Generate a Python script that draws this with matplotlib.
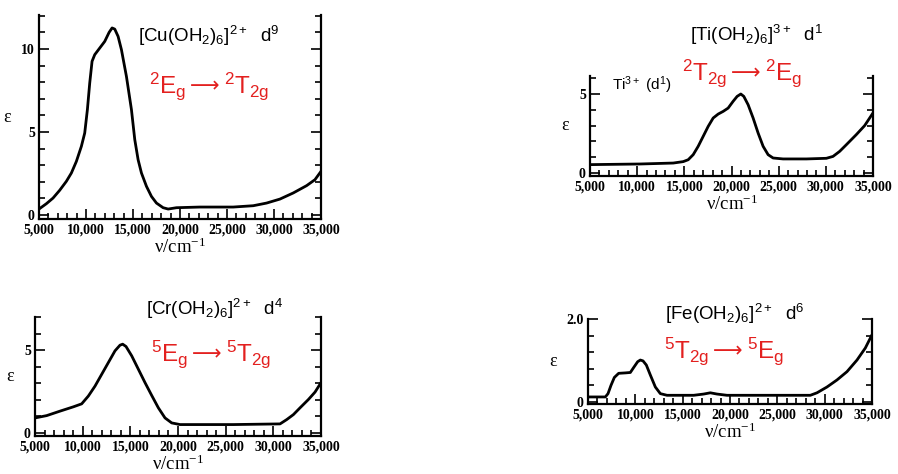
import matplotlib
matplotlib.use("Agg")
import matplotlib.pyplot as plt
from matplotlib.ticker import MultipleLocator, FixedLocator, FuncFormatter

plt.rcParams['mathtext.default'] = 'regular'

# ---- data (wavenumber in cm^-1, molar absorptivity) ----
cu_x = [5000, 5781, 6491, 7201, 7911, 8444, 8976, 9509, 9864, 10148, 10396, 10645, 10929,
        11461, 11994, 12455, 12775, 13059, 13414, 13770, 14301, 14834, 15189, 15544, 15899,
        16431, 16964, 17496, 18206, 18739, 19626, 22111, 25661, 27791, 29211, 30631, 32051,
        33471, 34359, 35000]
cu_y = [0.36, 0.68, 1.02, 1.49, 2.03, 2.53, 3.23, 4.14, 4.94, 6.35, 7.95, 9.26, 9.66,
        10.06, 10.46, 11.00, 11.27, 11.20, 10.76, 9.96, 8.35, 6.35, 4.54, 3.33, 2.53,
        1.73, 1.12, 0.72, 0.44, 0.36, 0.44, 0.48, 0.48, 0.56, 0.72, 0.96, 1.33,
        1.77, 2.13, 2.63]

ti_x = [5000, 10294, 13823, 14881, 15411, 15940, 16469, 16999, 17528, 18057, 18587, 19116,
        19645, 20175, 20598, 20986, 21304, 21763, 22292, 22821, 23351, 23880, 24410, 25468,
        27939, 30056, 30762, 31468, 32173, 33232, 34114, 35000]
ti_y = [0.53, 0.57, 0.63, 0.72, 0.84, 1.16, 1.69, 2.32, 2.95, 3.48, 3.73, 3.90,
        4.11, 4.54, 4.85, 5.00, 4.85, 4.32, 3.48, 2.53, 1.69, 1.16, 0.95, 0.89,
        0.89, 0.93, 1.05, 1.37, 1.79, 2.43, 3.00, 3.80]

cr_x = [5000, 6224, 7623, 9022, 9896, 10595, 11295, 11994, 12693, 13393, 13917, 14197,
        14547, 15141, 15841, 16540, 17240, 17939, 18638, 19338, 20212, 25807, 30703, 31402,
        32102, 32801, 33675, 34375, 35000]
cr_y = [0.91, 1.05, 1.32, 1.58, 1.76, 2.23, 2.83, 3.54, 4.25, 4.96, 5.30, 5.36,
        5.22, 4.66, 3.85, 3.04, 2.27, 1.52, 0.91, 0.61, 0.51, 0.51, 0.55, 0.81,
        1.11, 1.52, 2.02, 2.47, 3.04]

fe_x = [5000, 6831, 7113, 7429, 7782, 8239, 8944, 9472, 9824, 10246, 10528, 10810, 11162,
        11584, 12113, 12641, 13345, 16162, 17218, 17922, 18626, 19683, 28485, 29189, 30245,
        31302, 32358, 33414, 34295, 35000]
fe_y = [0.12, 0.12, 0.20, 0.40, 0.59, 0.69, 0.70, 0.71, 0.83, 0.97, 1.01, 0.99, 0.89,
        0.65, 0.36, 0.20, 0.16, 0.16, 0.19, 0.22, 0.19, 0.16, 0.16, 0.22, 0.36,
        0.53, 0.73, 1.01, 1.30, 1.62]

x_ticks = [5000, 10000, 15000, 20000, 25000, 30000, 35000]

complex_labels = [r'[Cu(OH$_2$)$_6$]$^{2+}$  d$^9$',
                  r'[Ti(OH$_2$)$_6$]$^{3+}$  d$^1$',
                  r'[Cr(OH$_2$)$_6$]$^{2+}$  d$^4$',
                  r'[Fe(OH$_2$)$_6$]$^{2+}$  d$^6$']
transition_from = [r'$^2$E$_g$', r'$^2$T$_{2g}$', r'$^5$E$_g$', r'$^5$T$_{2g}$']
transition_to = [r'$^2$T$_{2g}$', r'$^2$E$_g$', r'$^5$T$_{2g}$', r'$^5$E$_g$']
ARROW = '⟶'

W, H = 898, 474
fig = plt.figure(figsize=(W / 100, H / 100), dpi=100)
fig.patch.set_facecolor('white')

serif = ['Liberation Serif', 'DejaVu Serif']
sans = ['Liberation Sans', 'DejaVu Sans']
RED = '#e3201f'


def px_axes(left, right, top, bottom):
    return fig.add_axes([left / W, 1 - bottom / H, (right - left) / W, (bottom - top) / H])


def style(ax, ylim, ymajor, yminor):
    ax.set_xlim(5000, 35000)
    ax.set_ylim(*ylim)
    ax.spines['top'].set_visible(False)
    for s in ['left', 'right', 'bottom']:
        ax.spines[s].set_linewidth(1.6)
    ax.xaxis.set_major_locator(FixedLocator(x_ticks))
    ax.xaxis.set_minor_locator(MultipleLocator(1000))
    ax.xaxis.set_major_formatter(FuncFormatter(lambda v, p: f'{int(v):,}'))
    ax.yaxis.set_major_locator(FixedLocator(ymajor))
    ax.yaxis.set_minor_locator(MultipleLocator(yminor))
    ax.yaxis.set_major_formatter(FuncFormatter(lambda v, p: f'{v:g}' if v != 2.0 else '2.0'))
    ax.tick_params(axis='both', which='both', direction='in', width=1.2,
                   right=True, top=False, labelright=False)
    ax.tick_params(axis='both', which='major', length=7, pad=3)
    ax.tick_params(axis='both', which='minor', length=4)
    for lab in ax.get_xticklabels() + ax.get_yticklabels():
        lab.set_family(serif)
        lab.set_fontweight('bold')
        lab.set_fontsize(10)
    ax.set_ylabel('ε', family=serif, fontsize=13, rotation=0, labelpad=10, va='center')
    ax.set_xlabel(r'ν/cm$^{-1}$', family=serif, fontsize=13.5, labelpad=1)


def draw(ax, x, y):
    ax.plot(x, y, color='black', lw=2.0, solid_joinstyle='round', solid_capstyle='round')


# Panel 1: Cu
ax1 = px_axes(39, 321, 15, 219)
draw(ax1, cu_x, cu_y)
style(ax1, (-0.24, 12.05), [0, 5, 10], 1)

# Panel 2: Ti
ax2 = px_axes(590, 873, 76, 176)
draw(ax2, ti_x, ti_y)
style(ax2, (-0.19, 6.14), [0, 5], 1)

# Panel 3: Cr
ax3 = px_axes(35, 321, 317, 436)
draw(ax3, cr_x, cr_y)
style(ax3, (-0.18, 7.0), [0, 5], 1)

# Panel 4: Fe
ax4 = px_axes(588, 872, 319, 404)
draw(ax4, fe_x, fe_y)
style(ax4, (-0.05, 2.0), [0, 2.0], 0.4)

renderer = fig.canvas.get_renderer()


def ftext(x, y, s, **kw):
    return fig.text(x / W, 1 - y / H, s, **kw)


CFS = 13.5
TFS = 17.5


def transition(x, y, i):
    """Red 'A -> B' label; y is the text baseline in pixels from the top."""
    t1 = ftext(x, y, transition_from[i], family=sans, fontsize=TFS, color=RED,
               va='baseline', ha='left')
    x1 = x + t1.get_window_extent(renderer).width + 4
    t2 = ftext(x1, y - 1, ARROW, family=['DejaVu Sans'], fontsize=TFS * 0.85, color=RED,
               va='baseline', ha='left')
    x2 = x1 + t2.get_window_extent(renderer).width + 4
    ftext(x2, y, transition_to[i], family=sans, fontsize=TFS, color=RED,
          va='baseline', ha='left')


# complex labels (black, baseline positions) and transitions (red)
ftext(138, 42, complex_labels[0], family=sans, fontsize=CFS, va='baseline', ha='left')
transition(149, 93, 0)

ftext(690, 41, complex_labels[1], family=sans, fontsize=CFS, va='baseline', ha='left')
transition(682, 80, 1)
ftext(612, 90, r'Ti$^{3+}$ (d$^1$)', family=sans, fontsize=11, va='baseline', ha='left')

ftext(146, 315, complex_labels[2], family=sans, fontsize=CFS, va='baseline', ha='left')
transition(151, 361, 2)

ftext(665, 320, complex_labels[3], family=sans, fontsize=CFS, va='baseline', ha='left')
transition(664, 358, 3)

fig.savefig('out.png', dpi=100, facecolor='white')
